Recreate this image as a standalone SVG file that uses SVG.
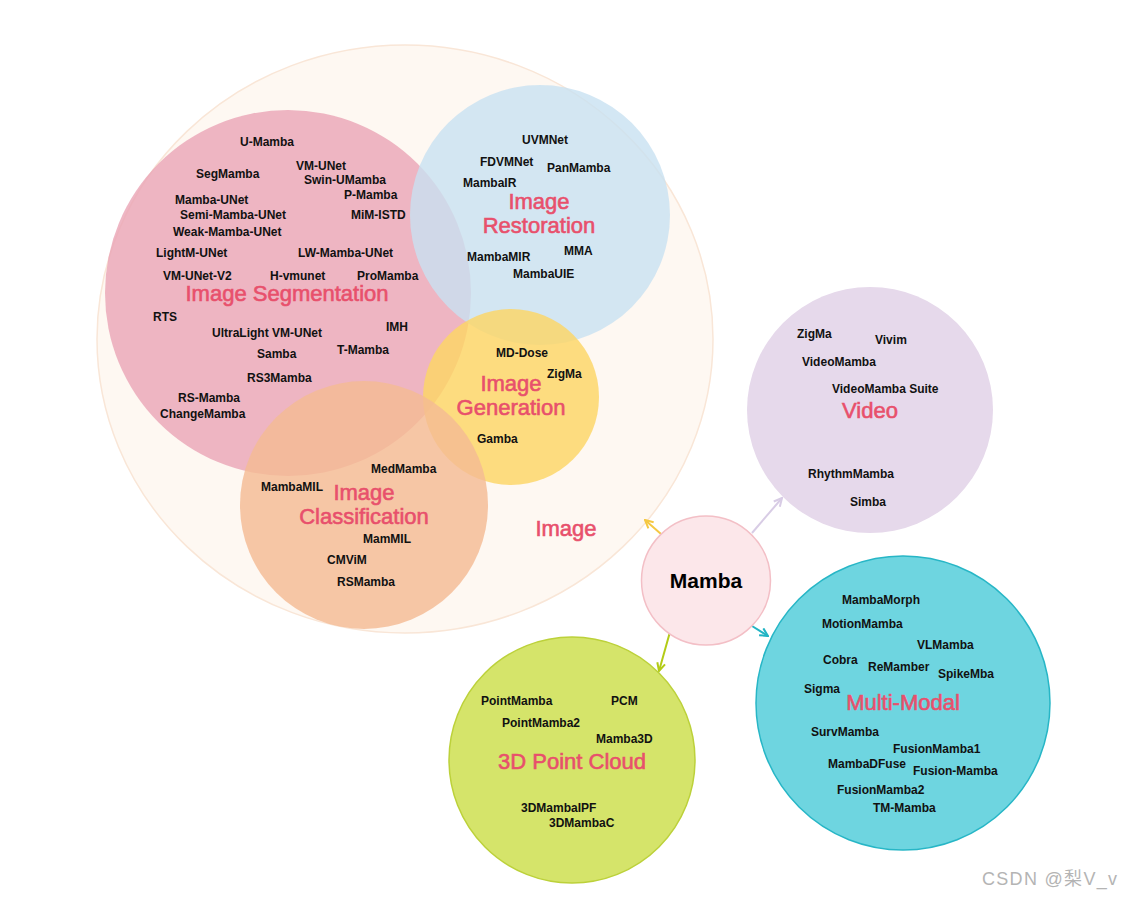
<svg xmlns="http://www.w3.org/2000/svg" width="1122" height="899" viewBox="0 0 1122 899">
<style>
.t{font-family:"Liberation Sans",Arial,sans-serif;font-weight:bold;font-size:12px;fill:#111;}
.c{font-family:"Liberation Sans",Arial,sans-serif;font-size:22px;fill:#E8506C;stroke:#E8506C;stroke-width:0.6;text-anchor:middle;}
.m{font-family:"Liberation Sans",Arial,sans-serif;font-weight:bold;font-size:21px;fill:#000;text-anchor:middle;}
.w{font-family:"Liberation Sans","Noto Sans CJK SC",sans-serif;font-size:18px;fill:#b4b4b4;}
.ar{stroke-width:2;fill:none;}
</style>
<defs>
<marker id="mY" viewBox="0 0 10 10" refX="9" refY="5" markerWidth="10" markerHeight="10" markerUnits="userSpaceOnUse" orient="auto"><path d="M1,1 L9,5 L1,9" fill="none" stroke="#F5C842" stroke-width="2"/></marker>
<marker id="mV" viewBox="0 0 10 10" refX="9" refY="5" markerWidth="10" markerHeight="10" markerUnits="userSpaceOnUse" orient="auto"><path d="M1,1 L9,5 L1,9" fill="none" stroke="#D8CCE5" stroke-width="2"/></marker>
<marker id="mT" viewBox="0 0 10 10" refX="9" refY="5" markerWidth="10" markerHeight="10" markerUnits="userSpaceOnUse" orient="auto"><path d="M1,1 L9,5 L1,9" fill="none" stroke="#22B4C4" stroke-width="2"/></marker>
<marker id="mG" viewBox="0 0 10 10" refX="9" refY="5" markerWidth="10" markerHeight="10" markerUnits="userSpaceOnUse" orient="auto"><path d="M1,1 L9,5 L1,9" fill="none" stroke="#B3CB16" stroke-width="2"/></marker>
</defs>
<rect width="1122" height="899" fill="#ffffff"/>

<g id="image">
<ellipse cx="405" cy="339" rx="308" ry="294" fill="#FEF8F2" stroke="#F9E6D7" stroke-width="1.5"/>
<text class="c" x="566" y="536">Image</text>
</g>

<g id="image-segmentation">
<circle cx="288" cy="293" r="183" fill="#EAA4B5" fill-opacity="0.8"/>
</g>
<g id="image-restoration">
<circle cx="540" cy="215" r="130" fill="#C8E1F1" fill-opacity="0.8"/>
</g>
<g id="image-generation">
<circle cx="511" cy="397" r="88" fill="#FCD565" fill-opacity="0.82"/>
</g>
<g id="image-classification">
<circle cx="364" cy="505" r="124" fill="#F4BB94" fill-opacity="0.82"/>
</g>

<g id="seg-labels">
<text class="c" x="287" y="301" font-size="21.5">Image Segmentation</text>
<text class="t" x="240" y="146">U-Mamba</text>
<text class="t" x="196" y="178">SegMamba</text>
<text class="t" x="296" y="170">VM-UNet</text>
<text class="t" x="304" y="184">Swin-UMamba</text>
<text class="t" x="344" y="199">P-Mamba</text>
<text class="t" x="175" y="204">Mamba-UNet</text>
<text class="t" x="180" y="219">Semi-Mamba-UNet</text>
<text class="t" x="351" y="219">MiM-ISTD</text>
<text class="t" x="173" y="236">Weak-Mamba-UNet</text>
<text class="t" x="156" y="257">LightM-UNet</text>
<text class="t" x="298" y="257">LW-Mamba-UNet</text>
<text class="t" x="163" y="280">VM-UNet-V2</text>
<text class="t" x="270" y="280">H-vmunet</text>
<text class="t" x="357" y="280">ProMamba</text>
<text class="t" x="153" y="321">RTS</text>
<text class="t" x="212" y="337">UltraLight VM-UNet</text>
<text class="t" x="386" y="331">IMH</text>
<text class="t" x="257" y="358">Samba</text>
<text class="t" x="337" y="354">T-Mamba</text>
<text class="t" x="247" y="382">RS3Mamba</text>
<text class="t" x="178" y="402">RS-Mamba</text>
<text class="t" x="160" y="418">ChangeMamba</text>
</g>

<g id="res-labels">
<text class="c" x="539" y="209">Image</text>
<text class="c" x="539" y="233">Restoration</text>
<text class="t" x="522" y="144">UVMNet</text>
<text class="t" x="480" y="166">FDVMNet</text>
<text class="t" x="547" y="172">PanMamba</text>
<text class="t" x="463" y="187">MambaIR</text>
<text class="t" x="467" y="261">MambaMIR</text>
<text class="t" x="564" y="255">MMA</text>
<text class="t" x="513" y="278">MambaUIE</text>
</g>

<g id="gen-labels">
<text class="c" x="511" y="391">Image</text>
<text class="c" x="511" y="415">Generation</text>
<text class="t" x="496" y="357">MD-Dose</text>
<text class="t" x="547" y="378">ZigMa</text>
<text class="t" x="477" y="443">Gamba</text>
</g>

<g id="cls-labels">
<text class="c" x="364" y="500">Image</text>
<text class="c" x="364" y="524">Classification</text>
<text class="t" x="371" y="473">MedMamba</text>
<text class="t" x="261" y="491">MambaMIL</text>
<text class="t" x="363" y="543">MamMIL</text>
<text class="t" x="327" y="564">CMViM</text>
<text class="t" x="337" y="586">RSMamba</text>
</g>

<g id="connectors">
<line class="ar" x1="661" y1="534" x2="645" y2="520" stroke="#F5C842" marker-end="url(#mY)"/>
<line class="ar" x1="752" y1="533" x2="782" y2="498" stroke="#D8CCE5" marker-end="url(#mV)"/>
<line class="ar" x1="752" y1="626" x2="768" y2="636" stroke="#22B4C4" marker-end="url(#mT)"/>
<line class="ar" x1="670" y1="632" x2="659" y2="671" stroke="#B3CB16" marker-end="url(#mG)"/>
</g>

<g id="mamba">
<circle cx="706" cy="580.5" r="64.5" fill="#FCE7EA" stroke="#F3BFC6" stroke-width="1.5"/>
<text class="m" x="706" y="588">Mamba</text>
</g>

<g id="video">
<circle cx="870" cy="410" r="123" fill="#E6D9EB"/>
<text class="c" x="870" y="418">Video</text>
<text class="t" x="797" y="338">ZigMa</text>
<text class="t" x="875" y="344">Vivim</text>
<text class="t" x="802" y="366">VideoMamba</text>
<text class="t" x="832" y="393">VideoMamba Suite</text>
<text class="t" x="808" y="478">RhythmMamba</text>
<text class="t" x="850" y="506">Simba</text>
</g>

<g id="multi-modal">
<circle cx="903" cy="703" r="147" fill="#6ED5E0" stroke="#27B6C6" stroke-width="1.5"/>
<text class="c" x="903" y="710">Multi-Modal</text>
<text class="t" x="842" y="604">MambaMorph</text>
<text class="t" x="822" y="628">MotionMamba</text>
<text class="t" x="917" y="649">VLMamba</text>
<text class="t" x="823" y="664">Cobra</text>
<text class="t" x="868" y="671">ReMamber</text>
<text class="t" x="938" y="678">SpikeMba</text>
<text class="t" x="804" y="693">Sigma</text>
<text class="t" x="811" y="736">SurvMamba</text>
<text class="t" x="893" y="753">FusionMamba1</text>
<text class="t" x="828" y="768">MambaDFuse</text>
<text class="t" x="913" y="775">Fusion-Mamba</text>
<text class="t" x="837" y="794">FusionMamba2</text>
<text class="t" x="873" y="812">TM-Mamba</text>
</g>

<g id="point-cloud">
<circle cx="572" cy="760" r="123" fill="#D5E46A" stroke="#BCD13A" stroke-width="1.5"/>
<text class="c" x="572" y="769">3D Point Cloud</text>
<text class="t" x="481" y="705">PointMamba</text>
<text class="t" x="611" y="705">PCM</text>
<text class="t" x="502" y="727">PointMamba2</text>
<text class="t" x="596" y="743">Mamba3D</text>
<text class="t" x="521" y="812">3DMambaIPF</text>
<text class="t" x="549" y="827">3DMambaC</text>
</g>

<text class="w" x="982" y="885" textLength="135">CSDN @梨V_v</text>
</svg>
